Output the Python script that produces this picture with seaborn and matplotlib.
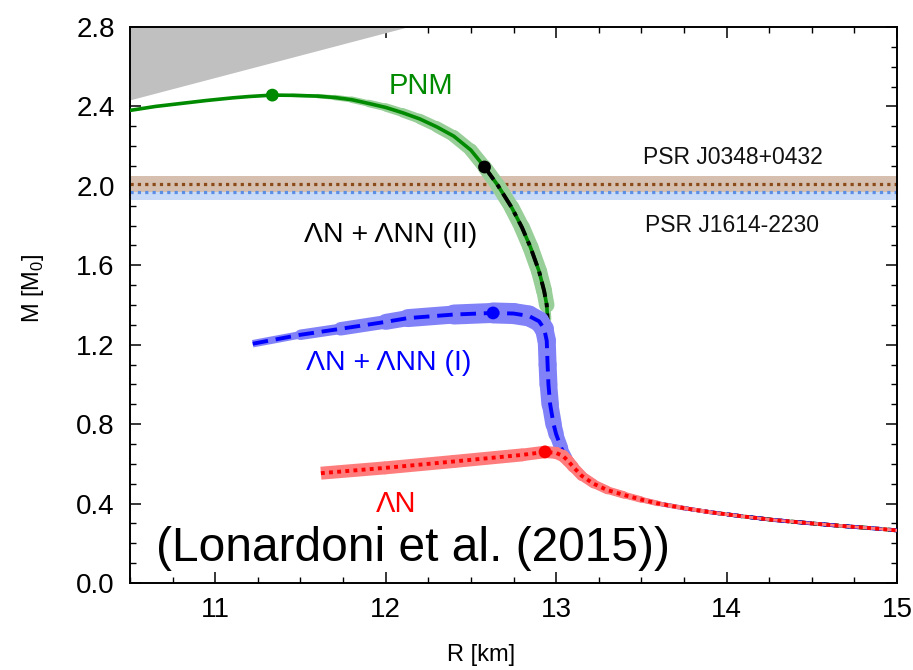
import numpy as np
import pandas as pd
import matplotlib
matplotlib.use("Agg")
import matplotlib.pyplot as plt
import seaborn as sns
from matplotlib.collections import LineCollection
from matplotlib.ticker import MultipleLocator

# ---------------- data ----------------
pnm_R = [10.5, 10.65, 10.8, 10.95, 11.1, 11.2, 11.335, 11.45, 11.6, 11.7, 11.8, 11.9,
         12.0, 12.1, 12.2, 12.3, 12.4, 12.5, 12.58,
         12.66, 12.74, 12.8, 12.85, 12.9, 12.93, 12.945, 12.95, 12.95, 12.95, 12.955,
         12.965, 12.985, 13.0, 13.03, 13.06, 13.1, 13.15, 13.22, 13.3, 13.4, 13.5, 13.6,
         13.75, 13.9, 14.1, 14.28, 14.5, 14.68, 14.85, 15.0]
pnm_M = [2.38, 2.40, 2.415, 2.43, 2.443, 2.45, 2.457, 2.456, 2.452, 2.445, 2.434, 2.415,
         2.395, 2.368, 2.337, 2.297, 2.25, 2.18, 2.095,
         2.0, 1.89, 1.79, 1.69, 1.57, 1.47, 1.40, 1.33, 1.2, 1.1, 1.0,
         0.9, 0.8, 0.75, 0.68, 0.63, 0.585, 0.54, 0.5, 0.468, 0.443, 0.42, 0.40,
         0.377, 0.357, 0.335, 0.317, 0.30, 0.287, 0.276, 0.265]

ann2_R = [12.58, 12.66, 12.74, 12.8, 12.85, 12.9, 12.93, 12.945, 12.95, 12.95, 12.95, 12.955,
          12.965, 12.985, 13.0, 13.03, 13.06, 13.1, 13.15, 13.22, 13.3, 13.4, 13.5, 13.6,
          13.75, 13.9, 14.1, 14.28, 14.5, 14.68, 14.85, 15.0]
ann2_M = [2.095, 2.0, 1.89, 1.79, 1.69, 1.57, 1.47, 1.40, 1.33, 1.2, 1.1, 1.0,
          0.9, 0.8, 0.75, 0.68, 0.63, 0.585, 0.54, 0.5, 0.468, 0.443, 0.42, 0.40,
          0.377, 0.357, 0.335, 0.317, 0.30, 0.287, 0.276, 0.265]

ann1_R = [11.22, 11.5, 11.735, 12.0, 12.13, 12.4, 12.63, 12.75, 12.84, 12.9, 12.93, 12.945,
          12.95, 12.955, 12.965, 12.985, 13.0, 13.03, 13.06, 13.1, 13.15, 13.22, 13.3, 13.4,
          13.5, 13.6, 13.75, 13.9, 14.1, 14.28, 14.5, 14.68, 14.85, 15.0]
ann1_M = [1.205, 1.25, 1.28, 1.315, 1.334, 1.352, 1.36, 1.357, 1.345, 1.318, 1.28, 1.22,
          1.1, 1.0, 0.9, 0.8, 0.75, 0.68, 0.63, 0.585, 0.54, 0.5, 0.468, 0.443,
          0.42, 0.40, 0.377, 0.357, 0.335, 0.317, 0.30, 0.287, 0.276, 0.265]

an_R = [11.62, 12.0, 12.4, 12.8, 12.935, 13.0, 13.04, 13.07, 13.1, 13.15, 13.22, 13.3, 13.4,
        13.5, 13.6, 13.75, 13.9, 14.1, 14.28, 14.5, 14.68, 14.85, 15.0]
an_M = [0.553, 0.58, 0.612, 0.645, 0.66, 0.655, 0.64, 0.615, 0.585, 0.54, 0.5, 0.468, 0.443,
        0.42, 0.40, 0.377, 0.357, 0.335, 0.317, 0.30, 0.287, 0.276, 0.265]

max_R = [11.335, 12.58, 12.63, 12.935]
max_M = [2.457, 2.095, 1.36, 0.66]
max_names = ["PNM", "II", "I", "AN"]

psr_names = ["PSR J0348+0432", "PSR J1614-2230"]
psr_mass = [2.01, 1.97]
psr_err = [0.04, 0.04]

causal_R = [10.5, 10.5, 12.14]
causal_M = [2.8, 2.43, 2.8]

x_ticks = [11, 12, 13, 14, 15]
y_ticks = [0.0, 0.4, 0.8, 1.2, 1.6, 2.0, 2.4, 2.8]

# band widths (px) along each curve
pnm_band_px = [0, 0, 0, 0, 0, 0, 2, 3, 4, 5, 6, 7,
               8, 9, 10, 11, 12, 13, 14,
               15, 15, 16, 16, 16, 16, 15, 0, 0, 0, 0,
               0, 0, 0, 0, 0, 0, 0, 0, 0, 0, 0, 0,
               0, 0, 0, 0, 0, 0, 0, 0]
ann1_band_px = [6, 9, 12, 15, 17, 19, 21, 21, 21, 20, 19, 18,
                18, 18, 17, 16, 15, 13, 11, 10, 9, 8, 7, 6,
                5, 5, 4, 4, 3, 3, 3, 3, 3, 3]
an_band_px = [13, 13, 13, 13, 12, 12, 12, 12, 11, 10, 9, 8, 7,
              6, 5, 4, 4, 3, 3, 3, 3, 3, 3]

# ---------------- figure ----------------
sns.set_theme(style="ticks")
plt.rcParams["font.family"] = ["Liberation Sans", "DejaVu Sans"]
plt.rcParams["mathtext.fontset"] = "custom"
plt.rcParams["mathtext.rm"] = "Liberation Sans"
for key in ["text.color", "axes.labelcolor", "xtick.color", "ytick.color", "axes.edgecolor"]:
    plt.rcParams[key] = "black"

fig = plt.figure(figsize=(9.13, 6.70), dpi=100)
ax = fig.add_axes([130 / 913, 1 - 583 / 670, (897 - 130) / 913, (583 - 27) / 670])

PX = 72.0 / 100.0  # points per pixel

# causality region
ax.fill(causal_R, causal_M, color="#c0c0c0", lw=0, zorder=1)

# pulsar bands
psr_fill = ["#d6bfae", "#c9dbf6"]
psr_line = ["#8b4a1a", "#5b8fe6"]
for i in [1, 0]:
    ax.axhspan(psr_mass[i] - psr_err[i], psr_mass[i] + psr_err[i],
               color=psr_fill[i], lw=0, zorder=1.5 + (1 - i) * 0.1)
for i in [0, 1]:
    ax.axhline(psr_mass[i], color=psr_line[i], lw=2.3, ls=(0, (1.0, 1.3)),
               dash_capstyle="butt", zorder=2)


def band(R, M, wpx, color, z):
    pts = np.column_stack([R, M])
    segs, widths = [], []
    for k in range(len(R) - 1):
        w = 0.5 * (wpx[k] + wpx[k + 1])
        if w <= 0:
            continue
        segs.append(pts[k:k + 2])
        widths.append(w * PX)
    # first segment with a flat end, the rest with round joints
    ax.add_collection(LineCollection(segs[:1], linewidths=widths[:1], colors=color,
                                     capstyle="butt", zorder=z))
    ax.add_collection(LineCollection(segs[1:], linewidths=widths[1:], colors=color,
                                     capstyle="round", joinstyle="round", zorder=z))


df_pnm = pd.DataFrame({"R": pnm_R, "M": pnm_M})
df_ii = pd.DataFrame({"R": ann2_R, "M": ann2_M})
df_i = pd.DataFrame({"R": ann1_R, "M": ann1_M})
df_an = pd.DataFrame({"R": an_R, "M": an_M})

# PNM
band(pnm_R, pnm_M, pnm_band_px, "#98cf98", 3.0)
sns.lineplot(data=df_pnm, x="R", y="M", sort=False, estimator=None, ax=ax,
             color="#008a00", lw=2.6, zorder=3.1)
# LN + LNN (II)
sns.lineplot(data=df_ii, x="R", y="M", sort=False, estimator=None, ax=ax,
             color="black", lw=2.8, zorder=3.2)
ax.lines[-1].set_dashes([4.0, 1.6, 1.1, 1.6])
# LN + LNN (I)
band(ann1_R, ann1_M, ann1_band_px, "#8282f8", 3.3)
sns.lineplot(data=df_i, x="R", y="M", sort=False, estimator=None, ax=ax,
             color="#0000ff", lw=2.8, zorder=3.4)
ax.lines[-1].set_dashes([4.0, 2.0])
# LN
band(an_R, an_M, an_band_px, "#ff7c7c", 3.5)
sns.lineplot(data=df_an, x="R", y="M", sort=False, estimator=None, ax=ax,
             color="#ff0000", lw=2.8, zorder=3.6)
ax.lines[-1].set_dashes([1.0, 1.1])
ax.lines[-1].set_dash_capstyle("butt")

df_max = pd.DataFrame({"R": max_R, "M": max_M, "n": max_names})
sns.scatterplot(data=df_max, x="R", y="M", hue="n",
                palette=["#008a00", "black", "#0000ff", "#ff0000"],
                s=85, edgecolor="none", legend=False, ax=ax, zorder=5)

# texts
ax.text(12.206, 2.505, "PNM", color="#008a00", fontsize=21, ha="center", va="center")
ax.text(14.04, 2.145, psr_names[0], color="#111111", fontsize=16.5, ha="center", va="center")
ax.text(14.03, 1.80, psr_names[1], color="#111111", fontsize=16.5, ha="center", va="center")
ax.text(12.03, 1.75, "ΛN + ΛNN (II)", color="black", fontsize=20.5, ha="center", va="center")
ax.text(12.02, 1.11, "ΛN + ΛNN (I)", color="#0000ff", fontsize=20.5, ha="center", va="center")
ax.text(12.06, 0.40, "ΛN", color="#ff0000", fontsize=21, ha="center", va="center")
ax.text(12.16, 0.175, "(Lonardoni et al. (2015))", color="black", fontsize=34.5,
        ha="center", va="center")

ax.set_xlim(10.5, 15.0)
ax.set_ylim(0.0, 2.8)
ax.set_xticks(x_ticks)
ax.set_yticks(y_ticks)
ax.set_xticklabels([str(t) for t in x_ticks])
ax.set_yticklabels([f"{t:.1f}" for t in y_ticks])
ax.xaxis.set_minor_locator(MultipleLocator(0.25))
ax.yaxis.set_minor_locator(MultipleLocator(0.1))
ax.tick_params(which="both", direction="in", top=True, right=True, color="black",
               labelcolor="black")
ax.tick_params(which="major", length=8, width=1.1, labelsize=20)
ax.tick_params(axis="x", which="major", pad=10)
ax.tick_params(axis="y", which="major", pad=11)
ax.tick_params(which="minor", length=4.5, width=1.0)
for s in ax.spines.values():
    s.set_color("black")
    s.set_linewidth(1.4)
    s.set_visible(True)
ax.set_xlabel("R [km]", fontsize=17)
ax.set_ylabel(r"M [M$_\mathregular{0}$]", fontsize=17)
ax.xaxis.set_label_coords((481 - 130) / 767, (583 - 644) / 556)
ax.yaxis.set_label_coords((46 - 130) / 767, (583 - 288) / 556)
ax.set_facecolor("white")
fig.patch.set_facecolor("white")

fig.savefig("out.png", dpi=100)
